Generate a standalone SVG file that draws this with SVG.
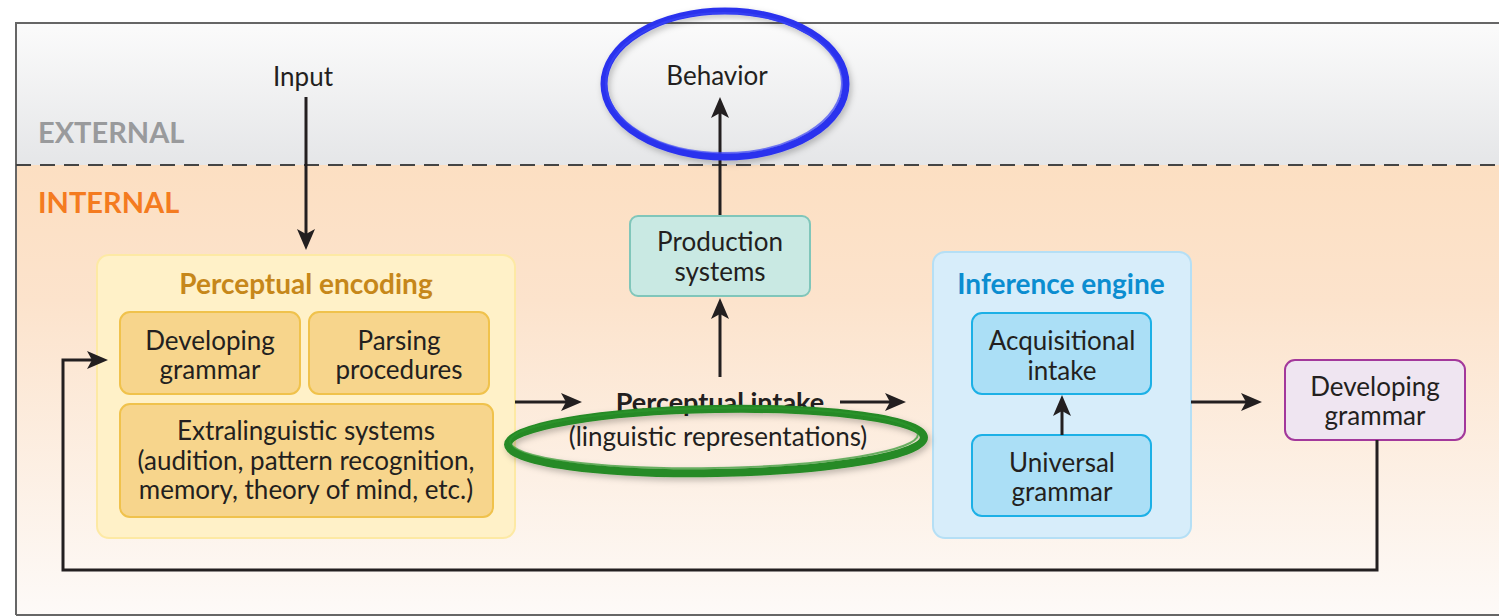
<svg xmlns="http://www.w3.org/2000/svg" width="1499" height="616" viewBox="0 0 1499 616">
<defs>
<linearGradient id="gExt" x1="0" y1="0" x2="0" y2="1">
<stop offset="0" stop-color="#fbfbfb"/>
<stop offset="1" stop-color="#e5e6e8"/>
</linearGradient>
<linearGradient id="gInt" x1="0" y1="0" x2="0" y2="1">
<stop offset="0" stop-color="#fcdfc2"/>
<stop offset="0.3" stop-color="#fce3cc"/>
<stop offset="1" stop-color="#fdfaf8"/>
</linearGradient>
<marker id="ah" markerUnits="userSpaceOnUse" markerWidth="22" markerHeight="20" viewBox="0 0 22 20" refX="15" refY="10" orient="auto">
<path d="M0,1 L21,10 L0,19 L5,10 Z" fill="#231f20"/>
</marker>
<filter id="sh" x="-20%" y="-30%" width="140%" height="160%">
<feDropShadow dx="2" dy="3" stdDeviation="3" flood-color="#000" flood-opacity="0.25"/>
</filter>
</defs>
<style>
text{font-family:Lato,"Liberation Sans",sans-serif;fill:#231f20;text-anchor:middle}
.t{font-size:26px}
.h{font-size:28px;font-weight:bold}
.zone{font-size:29px;font-weight:bold;text-anchor:start}
.ln{fill:none;stroke:#231f20;stroke-width:3;marker-end:url(#ah)}
.inner-y{fill:#f7d58c;stroke:#f0c24c;stroke-width:2}
.inner-b{fill:#abdff6;stroke:#1cb0e6;stroke-width:2}
</style>

<g id="background">
<rect x="16" y="23" width="1490" height="142" fill="url(#gExt)"/>
<rect x="16" y="165" width="1490" height="451" fill="url(#gInt)"/>
<path d="M16,615 V23 H1506" fill="none" stroke="#666" stroke-width="2"/>
<line x1="16" y1="615" x2="1506" y2="615" stroke="#666" stroke-width="2"/>
<line x1="16" y1="165" x2="1506" y2="165" stroke="#444" stroke-width="2" stroke-dasharray="15 9"/>
<text class="zone" x="38" y="143" style="fill:#999a9c">EXTERNAL</text>
<text class="zone" x="38" y="213" style="fill:#f47b20">INTERNAL</text>
</g>

<g id="input"><text class="t" x="303" y="86">Input</text></g>
<g id="behavior"><text class="t" x="717" y="85">Behavior</text></g>

<g id="production">
<rect x="630" y="216" width="180" height="80" rx="8" fill="#c9e9e3" stroke="#80c6ba" stroke-width="2"/>
<text class="t" x="720" y="251">Production</text>
<text class="t" x="720" y="281">systems</text>
</g>

<g id="perceptual-encoding">
<rect x="97" y="255" width="418" height="283" rx="12" fill="#fff1c8" stroke="#fde9a4" stroke-width="2"/>
<text class="h" x="306" y="294" style="fill:#c6871a">Perceptual encoding</text>
<g id="developing-grammar-1">
<rect class="inner-y" x="120" y="312" width="180" height="82" rx="10"/>
<text class="t" x="210" y="350">Developing</text>
<text class="t" x="210" y="379">grammar</text>
</g>
<g id="parsing">
<rect class="inner-y" x="309" y="312" width="180" height="82" rx="10"/>
<text class="t" x="399" y="350">Parsing</text>
<text class="t" x="399" y="379">procedures</text>
</g>
<g id="extralinguistic">
<rect class="inner-y" x="120" y="404" width="373" height="113" rx="10"/>
<text class="t" x="306" y="440">Extralinguistic systems</text>
<text class="t" x="306" y="470">(audition, pattern recognition,</text>
<text class="t" x="306" y="499">memory, theory of mind, etc.)</text>
</g>
</g>

<g id="perceptual-intake">
<text class="t" x="720" y="412" style="font-weight:bold;font-size:27px">Perceptual intake</text>
<text class="t" x="718" y="446">(linguistic representations)</text>
</g>

<g id="inference-engine">
<rect x="933" y="252" width="258" height="286" rx="12" fill="#d7edfa" stroke="#b5dff5" stroke-width="2"/>
<text class="h" x="1061" y="294" style="fill:#0b8dd0">Inference engine</text>
<g id="acquisitional-intake">
<rect class="inner-b" x="972" y="313" width="179" height="81" rx="10"/>
<text class="t" x="1062" y="350">Acquisitional</text>
<text class="t" x="1062" y="380">intake</text>
</g>
<g id="universal-grammar">
<rect class="inner-b" x="972" y="435" width="179" height="81" rx="10"/>
<text class="t" x="1062" y="472">Universal</text>
<text class="t" x="1062" y="501">grammar</text>
</g>
</g>

<g id="developing-grammar-2">
<rect x="1285" y="360" width="180" height="80" rx="10" fill="#efe5f1" stroke="#a3389b" stroke-width="2"/>
<text class="t" x="1375" y="396">Developing</text>
<text class="t" x="1375" y="425">grammar</text>
</g>

<g id="connectors">
<line class="ln" x1="306" y1="97" x2="306" y2="244"/>
<line class="ln" x1="720" y1="215" x2="720" y2="103"/>
<line class="ln" x1="720" y1="377" x2="720" y2="304"/>
<line class="ln" x1="515" y1="402" x2="576" y2="402"/>
<line class="ln" x1="840" y1="402" x2="900" y2="402"/>
<line class="ln" x1="1062" y1="435" x2="1062" y2="401"/>
<line class="ln" x1="1191" y1="402" x2="1256" y2="402"/>
<path class="ln" d="M1377,440 V570 H63 V360 H102"/>
</g>

<g id="annotations" fill="none">
<g filter="url(#sh)">
<ellipse cx="725" cy="84" rx="121" ry="73" stroke="#2b33ee" stroke-width="7"/>
<ellipse cx="724" cy="83" rx="118" ry="70" stroke="#3a44f5" stroke-width="2" opacity="0.7"/>
</g>
<g filter="url(#sh)">
<ellipse cx="716" cy="441" rx="208" ry="32" stroke="#258a25" stroke-width="8" transform="rotate(-1 716 441)"/>
<ellipse cx="714" cy="438" rx="204" ry="30" stroke="#2f962f" stroke-width="2" opacity="0.7" transform="rotate(-1 716 441)"/>
</g>
</g>
</svg>
